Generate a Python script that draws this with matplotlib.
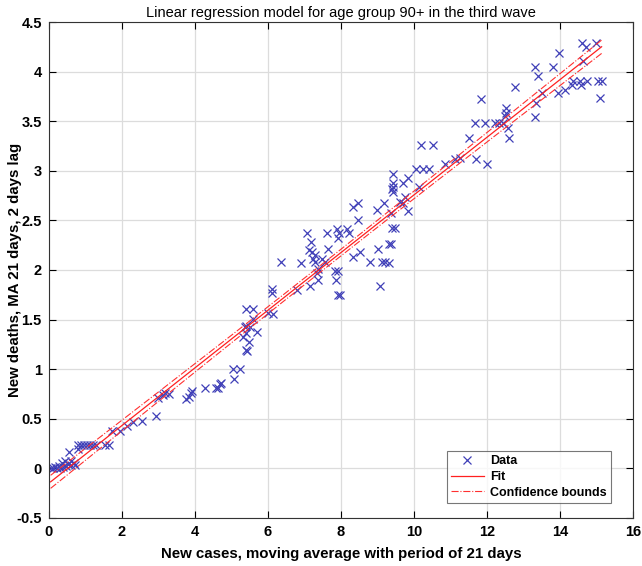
import numpy as np
import matplotlib
matplotlib.use("Agg")
import matplotlib.pyplot as plt
from matplotlib.ticker import FuncFormatter

# New cases (21-day moving average) and new deaths (MA 21 days, 2 days lag), age 90+
new_cases = [
    0.05, 0.12, 0.18, 0.22, 0.28, 0.32, 0.36, 0.40, 0.44, 0.48, 0.53, 0.56, 0.60, 0.62, 0.68, 0.71,
    0.79, 0.80, 0.88, 0.96, 1.04, 1.12, 1.20, 1.28, 1.55, 1.65,
    1.72, 1.95, 2.15, 2.30, 2.54, 2.94,
    3.00, 3.12, 3.18, 3.30, 3.77, 3.84, 3.89, 3.92,
    4.27, 4.58, 4.64, 4.68, 4.71, 5.04, 5.08, 5.24,
    5.40, 5.44, 5.33, 5.47, 5.71, 5.37, 5.41, 5.50, 5.39, 5.58, 5.40, 5.58,
    5.99, 6.15, 6.10, 6.10,
    6.35, 6.79, 6.92, 7.06, 7.17, 7.13, 7.20, 7.29, 7.24, 7.29,
    7.47, 7.56, 7.38, 7.35, 7.15, 7.38, 7.61, 7.65,
    7.90, 7.95, 7.93, 8.17, 8.23, 7.84, 7.91, 7.86, 7.93, 7.97,
    8.34, 8.52, 8.33, 8.46, 8.48,
    8.79, 8.98, 9.18, 9.02, 9.07, 9.12, 9.21, 9.32,
    9.32, 9.37, 9.39, 9.48, 9.37,
    9.42, 9.43, 9.42, 9.39, 9.43,
    9.71, 9.84, 9.62, 9.71, 9.75, 9.84,
    10.14, 10.07, 10.24, 10.42, 10.18, 10.53,
    10.85, 11.12, 11.26, 11.71, 11.99,
    11.52, 11.67, 11.95, 11.85,
    12.22, 12.34, 12.45, 12.52, 12.52, 12.49, 12.58, 12.61,
    12.77, 13.32, 13.41, 13.80, 13.98,
    14.60, 14.71, 15.00, 14.62,
    13.95, 14.13, 14.32, 14.37, 14.55, 14.57, 14.75, 15.05, 15.14, 15.10,
    13.52, 13.34, 13.32,
]
new_deaths = [
    0.00, 0.00, 0.01, 0.00, 0.02, 0.00, 0.05, 0.01, 0.07, 0.02, 0.04, 0.16, 0.03, 0.07, 0.05, 0.03,
    0.24, 0.19, 0.24, 0.24, 0.24, 0.24, 0.24, 0.24, 0.24, 0.24,
    0.38, 0.38, 0.43, 0.47, 0.48, 0.53,
    0.71, 0.74, 0.76, 0.75, 0.70, 0.72, 0.76, 0.78,
    0.81, 0.81, 0.81, 0.85, 0.86, 1.00, 0.90, 1.00,
    1.19, 1.18, 1.32, 1.27, 1.37, 1.42, 1.44, 1.43, 1.36, 1.51, 1.61, 1.61,
    1.57, 1.56, 1.81, 1.77,
    2.08, 1.80, 2.07, 2.37, 2.28, 2.20, 2.18, 2.15, 2.11, 2.08,
    2.11, 2.08, 2.01, 1.97, 1.84, 1.90, 2.37, 2.21,
    2.41, 2.37, 2.32, 2.41, 2.37, 1.99, 1.99, 1.90, 1.75, 1.75,
    2.13, 2.18, 2.64, 2.68, 2.50,
    2.08, 2.60, 2.68, 2.21, 1.84, 2.08, 2.08, 2.07,
    2.26, 2.26, 2.42, 2.42, 2.57,
    2.97, 2.88, 2.84, 2.82, 2.79,
    2.88, 2.93, 2.69, 2.68, 2.74, 2.59,
    2.84, 3.02, 3.02, 3.02, 3.26, 3.26,
    3.07, 3.12, 3.13, 3.12, 3.07,
    3.33, 3.48, 3.48, 3.72,
    3.48, 3.48, 3.48, 3.63, 3.58, 3.55, 3.43, 3.33,
    3.85, 4.05, 3.96, 4.05, 4.19,
    4.29, 4.25, 4.29, 4.11,
    3.78, 3.82, 3.87, 3.91, 3.91, 3.87, 3.91, 3.91, 3.91, 3.73,
    3.78, 3.68, 3.54,
]

x_ticks = [0, 2, 4, 6, 8, 10, 12, 14, 16]
y_ticks = [-0.5, 0, 0.5, 1, 1.5, 2, 2.5, 3, 3.5, 4, 4.5]

x = np.asarray(new_cases)
y = np.asarray(new_deaths)

# Ordinary least squares fit with 95% confidence bounds for the mean response
n = x.size
slope, intercept = np.polyfit(x, y, 1)
resid = y - (slope * x + intercept)
s = np.sqrt(np.sum(resid ** 2) / (n - 2))
sxx = np.sum((x - x.mean()) ** 2)
xg = np.linspace(x.min(), x.max(), 200)
yg = slope * xg + intercept
half = 1.97 * s * np.sqrt(1.0 / n + (xg - x.mean()) ** 2 / sxx)

plt.rcParams['font.family'] = ['Liberation Sans', 'DejaVu Sans']

fig = plt.figure(figsize=(6.42, 5.66), dpi=100)
ax = fig.add_axes([0.076, 0.085, 0.910, 0.876])

ax.plot(x, y, 'x', color='#4040b8', markersize=5.5, markeredgewidth=0.9, label='Data')
ax.plot(xg, yg, '-', color='#ff2020', linewidth=0.9, label='Fit')
ax.plot(xg, yg - half, '-.', color='#ff3030', linewidth=0.8, label='Confidence bounds')
ax.plot(xg, yg + half, '-.', color='#ff3030', linewidth=0.8)

ax.set_xlim(0, 16)
ax.set_ylim(-0.5, 4.5)
ax.set_xticks(x_ticks)
ax.set_yticks(y_ticks)
ax.yaxis.set_major_formatter(FuncFormatter(lambda v, p: f"{v:g}"))
ax.grid(True, color='#dcdcdc', linewidth=0.9)
ax.set_axisbelow(True)
ax.tick_params(direction='in', top=True, right=True, length=5, width=0.8,
               labelsize=10.5, pad=5)
for lab in ax.get_xticklabels() + ax.get_yticklabels():
    lab.set_fontweight('bold')
for sp in ax.spines.values():
    sp.set_linewidth(0.8)
    sp.set_color('#333333')

ax.set_title('Linear regression model for age group 90+ in the third wave',
             fontsize=10.5, pad=4)
ax.set_xlabel('New cases, moving average with period of 21 days',
              fontsize=10.8, fontweight='bold', labelpad=6)
ax.set_ylabel('New deaths, MA 21 days, 2 days lag',
              fontsize=10.8, fontweight='bold')
ax.yaxis.set_label_coords(-0.046, 0.5)

leg = ax.legend(loc='lower right', bbox_to_anchor=(0.962, 0.03),
                prop={'weight': 'bold', 'size': 9}, frameon=True, fancybox=False,
                edgecolor='#555555', handlelength=2.6, handletextpad=0.5,
                borderpad=0.35, labelspacing=0.3, borderaxespad=0.0)
leg.get_frame().set_linewidth(0.8)

fig.savefig('out.png', dpi=100)
